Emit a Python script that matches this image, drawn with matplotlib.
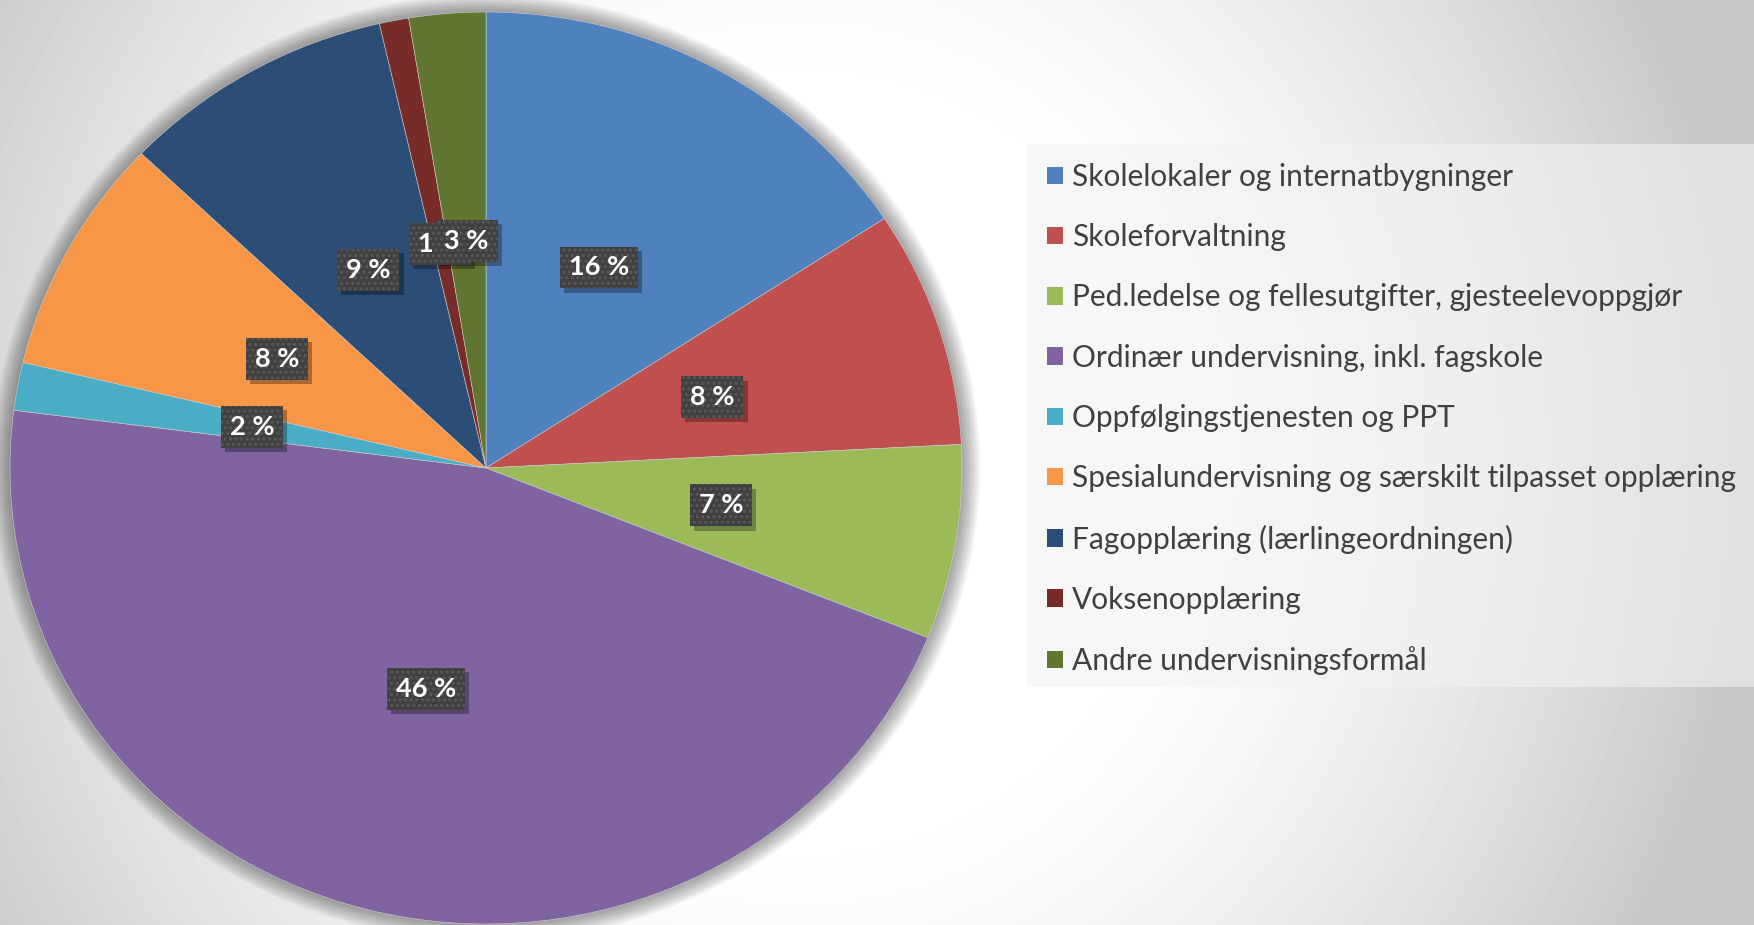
import numpy as np
import matplotlib
matplotlib.use("Agg")
import matplotlib.pyplot as plt
from matplotlib.patches import Circle, Rectangle

plt.rcParams['font.family'] = ['Lato', 'DejaVu Sans']
plt.rcParams['hatch.linewidth'] = 1.5

# data (andel av utgifter, prosent)
kategorier = [
    'Skolelokaler og internatbygninger',
    'Skoleforvaltning',
    'Ped.ledelse og fellesutgifter, gjesteelevoppgjør',
    'Ordinær undervisning, inkl. fagskole',
    'Oppfølgingstjenesten og PPT',
    'Spesialundervisning og særskilt tilpasset opplæring',
    'Fagopplæring (lærlingeordningen)',
    'Voksenopplæring',
    'Andre undervisningsformål',
]
andel = [15.8, 8.4, 6.9, 46.0, 1.7, 8.4, 9.3, 1.0, 2.6]
farger = ['#4F81BD', '#C0504D', '#9BBB59', '#8064A2', '#4BACC6',
          '#F79646', '#2C4D75', '#772C2A', '#5F7530']

W, H = 1754, 925
fig = plt.figure(figsize=(W / 100, H / 100), dpi=100)

# bakgrunn: radial gradient
bg = fig.add_axes([0, 0, 1, 1])
yy, xx = np.mgrid[0:H, 0:W]
d = np.sqrt(((xx - 800) / 954.0) ** 2 + ((yy - 462) / 1000.0) ** 2)
t = np.clip((d - 0.35) / 0.65, 0, 1) ** 1.5
grå = 1 - 0.22 * t
bg.imshow(grå, cmap='gray', vmin=0, vmax=1, extent=[0, W, H, 0], aspect='auto')
bg.set_xlim(0, W)
bg.set_ylim(H, 0)
bg.axis('off')

# legend-boks
bg.add_patch(Rectangle((1027, 144), W - 1027, 687 - 144,
                       facecolor='#f2f2f2', alpha=0.6, linewidth=0))

# kake
cx, cy, rx, ry = 486, 468, 476, 456
ax = fig.add_axes([(cx - rx) / W, (H - cy - ry) / H, 2 * rx / W, 2 * ry / H])
ax.patch.set_alpha(0)

# skygge rundt kaken
for i in range(12):
    ax.add_patch(Circle((0, 0), 1.0 + i * 0.0035, facecolor='black',
                        alpha=0.035, linewidth=0, zorder=0, clip_on=False))

wedges, texts, autotexts = ax.pie(
    andel, colors=farger, startangle=90, counterclock=False, radius=1,
    autopct=lambda p: f'{p:.0f} %', pctdistance=0.5,
    wedgeprops=dict(edgecolor='#d0d0d0', linewidth=0.4, zorder=1),
    textprops=dict(color='white', fontsize=19.5, fontweight='bold'))

for at in autotexts:
    x, y = at.get_position()
    ax.annotate(at.get_text(), xy=(x, y), xytext=(3, -3), textcoords='offset points',
                ha='center', va='center', fontsize=19.5, fontweight='bold', color='none',
                bbox=dict(boxstyle='square,pad=0.33', facecolor='black', alpha=0.3,
                          linewidth=0), zorder=2)
    at.set_zorder(3)
    at.set_bbox(dict(boxstyle='square,pad=0.33', facecolor='#404040',
                     edgecolor='#585858', linewidth=0, hatch='...'))

ax.set_xlim(-1, 1)
ax.set_ylim(-1, 1)
ax.set_aspect('auto')
ax.axis('off')

leg = fig.legend(wedges, kategorier, loc='upper left',
                 bbox_to_anchor=(1032 / W, 1 - 148 / H), frameon=False,
                 fontsize=21.5, handlelength=0.53, handleheight=0.53,
                 handletextpad=0.3, labelspacing=1.08, borderpad=0)
for txt in leg.get_texts():
    txt.set_color('#404040')
for h in leg.legend_handles:
    h.set_edgecolor('none')

fig.savefig('out.png', dpi=100)
